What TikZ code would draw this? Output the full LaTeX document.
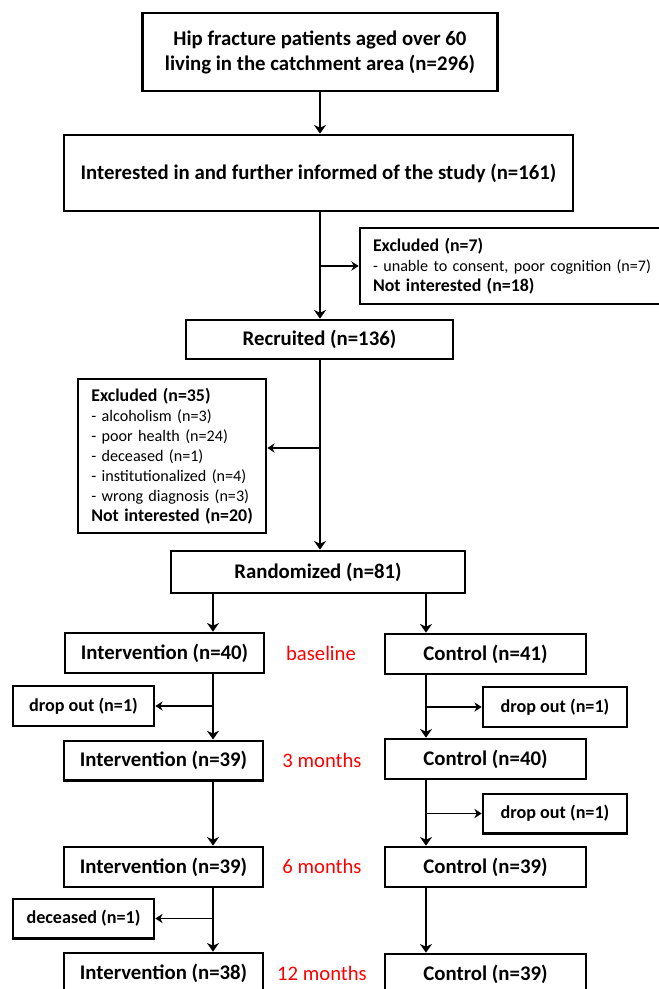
\documentclass[tikz,border=0pt]{standalone}
\usepackage{fontspec}
\setmainfont{Carlito}
\usetikzlibrary{arrows.meta}
\begin{document}
\begin{tikzpicture}[x=0.75pt,y=-0.75pt,
 box/.style={draw, line width=2pt, inner sep=0pt, align=center, font=\fontsize{15.6}{18.75}\selectfont\bfseries},
 sbox/.style={draw, line width=2pt, inner sep=0pt, align=center, font=\fontsize{13.6}{15}\selectfont\bfseries},
 xbox/.style={draw, line width=2pt, inner ysep=0pt, align=left, font=\fontsize{12.1}{15}\selectfont},
 lbl/.style={text=red, inner sep=0pt, font=\fontsize{15.5}{18}\selectfont},
 arr/.style={line width=1.65pt, -{Stealth[length=6.5pt,width=9pt,inset=2pt]}},
 sarr/.style={line width=1.2pt, -{Stealth[length=5.5pt,width=7pt,inset=1.8pt]}}]
\newcommand{\xbf}[1]{\mbox{\fontsize{13.4}{15}\selectfont\bfseries #1}}
\useasboundingbox (0,0) rectangle (658,989);
% main flow
\node[box, minimum width=266.25pt, minimum height=58.5pt] (top) at (320,52)
  {Hip fracture patients aged over 60\\living in the catchment area (n=296)};
\node[box, minimum width=381.75pt, minimum height=57pt] (int) at (318.5,173)
  {Interested in and further informed of the study (n=161)};
\node[xbox, inner xsep=9.75pt, text width=214.5pt, minimum height=57pt] (ex1) at (516,266)
  {\xbf{Excluded (n=7)}\\\mbox{- unable to consent, poor cognition (n=7)}\\\xbf{Not interested (n=18)}};
\node[box, minimum width=200.25pt, minimum height=29.25pt] (rec) at (319.5,339.5) {Recruited (n=136)};
\node[xbox, inner xsep=10pt, text width=121pt, minimum height=115.5pt] (ex2) at (172,456)
  {\xbf{Excluded (n=35)}\\\mbox{- alcoholism (n=3)}\\\mbox{- poor health (n=24)}\\\mbox{- deceased (n=1)}\\\mbox{- institutionalized (n=4)}\\\mbox{- wrong diagnosis (n=3)}\\\xbf{Not interested (n=20)}};
\node[box, minimum width=220.5pt, minimum height=31.5pt] (rnd) at (318,572) {Randomized (n=81)};
% columns
\node[box, minimum width=149.25pt, minimum height=30pt] (i40) at (164.5,653) {Intervention (n=40)};
\node[box, minimum width=150.75pt, minimum height=30pt] (c41) at (485.5,654) {Control (n=41)};
\node[sbox, minimum width=105.75pt, minimum height=30pt] (dl1) at (83.5,706) {drop out (n=1)};
\node[sbox, minimum width=108pt, minimum height=30pt] (dr1) at (555,707) {drop out (n=1)};
\node[box, minimum width=149.25pt, minimum height=29.5pt] (i39a) at (163.5,760.5) {Intervention (n=39)};
\node[box, minimum width=150.75pt, minimum height=30pt] (c40) at (485.5,759) {Control (n=40)};
\node[sbox, minimum width=108pt, minimum height=29.5pt] (dr2) at (555,813.5) {drop out (n=1)};
\node[box, minimum width=149.25pt, minimum height=30pt] (i39b) at (163.5,867) {Intervention (n=39)};
\node[box, minimum width=150.75pt, minimum height=30pt] (c39a) at (485.5,867) {Control (n=39)};
\node[sbox, minimum width=105.75pt, minimum height=29.5pt] (dec) at (83.5,918.5) {deceased (n=1)};
\node[box, minimum width=149.25pt, minimum height=30pt] (i38) at (163.5,973) {Intervention (n=38)};
\node[box, minimum width=150.75pt, minimum height=30pt] (c39b) at (485.5,974) {Control (n=39)};
% labels
\node[lbl] (l0) at (321,653) {baseline};
\node[lbl] (l3) at (322,760) {3 months};
\node[lbl] (l6) at (322,866) {6 months};
\node[lbl] (l12) at (322,973) {12 months};
% connectors main
\draw[arr] (top.south) -- (top.south |- int.north);
\coordinate (j1) at (320,211);
\draw[arr] (j1) -- (j1 |- rec.north);
\draw[sarr] (j1 |- ex1.west) -- (ex1.west);
\coordinate (j2) at (320,359);
\coordinate (j2s) at (320,448);
\draw[arr] (j2) -- (j2 |- rnd.north);
\draw[sarr] (j2s) -- (j2s -| ex2.east);
% branches
\coordinate (bl) at (213,593);
\coordinate (br) at (426,593);
\draw[arr] (bl) -- (bl |- i40.north);
\draw[arr] (br) -- (br |- c41.north);
% left column
\draw[arr] (bl |- i40.south) -- (bl |- i39a.north);
\draw[sarr] (bl |- dl1.east) -- (dl1.east);
\draw[arr] (bl |- i39a.south) -- (bl |- i39b.north);
\draw[arr] (bl |- i39b.south) -- (bl |- i38.north);
\draw[sarr] (bl |- dec.east) -- (dec.east);
% right column
\draw[arr] (br |- c41.south) -- (br |- c40.north);
\draw[sarr] (br |- dr1.west) -- (dr1.west);
\draw[arr] (br |- c40.south) -- (br |- c39a.north);
\draw[sarr] (br |- dr2.west) -- (dr2.west);
\draw[arr] (br |- c39a.south) -- (br |- c39b.north);
\end{tikzpicture}
\end{document}
